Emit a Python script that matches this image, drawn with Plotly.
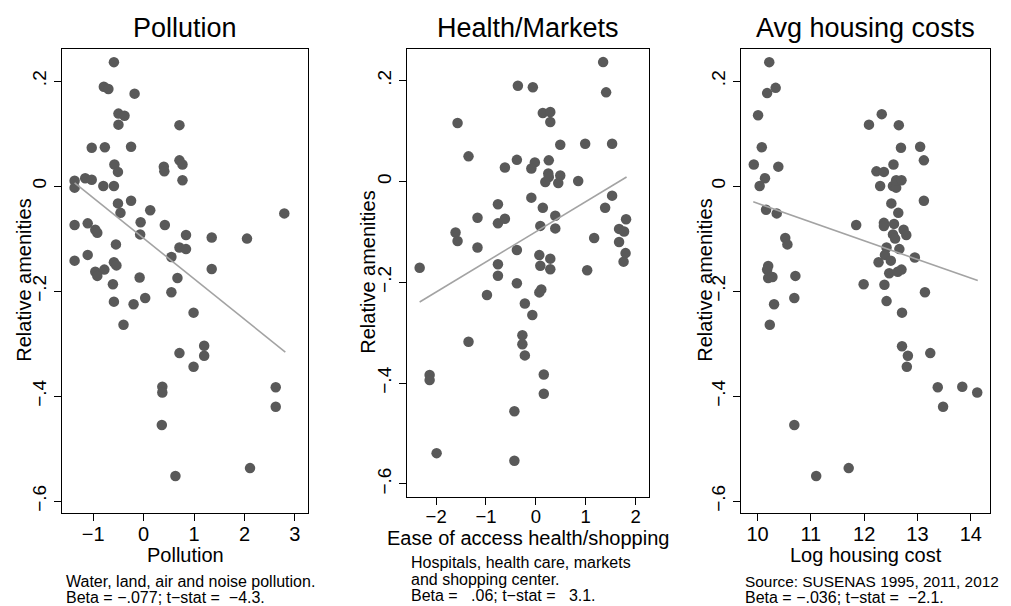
#!/usr/bin/env python
# %%
import plotly.graph_objects as go

# the page body has an 8px margin, so the figure is drawn 8px smaller and shifted
PAGE_W, PAGE_H, OFF = 1011, 606, 8
W, H = PAGE_W - OFF, PAGE_H - OFF
FONT = "Liberation Sans, Arial, Helvetica, sans-serif"

# Pollution panel
pollution_x = [-0.59, -0.79, -0.70, -0.18, -0.50, -0.38, -0.50, 0.71, -1.03, -0.77,
               -0.25, -0.58, 0.71, 0.77, 0.40, 0.41, -0.51, -1.37, -1.16, -1.03,
               -1.37, -0.80, -0.59, 0.77, -0.51, -0.25, -0.46, 0.13, 2.79, -1.37,
               -1.11, -0.96, -0.92, -0.06, 0.42, -0.07, 0.84, 1.35, 2.05, -0.55,
               0.71, 0.84, -1.11, -1.37, 0.55, -0.59, -0.54, 1.35, -0.96, -0.78,
               -0.92, -0.08, 0.67, -0.61, 0.55, -0.59, -0.20, 0.03, 0.99, -0.40,
               0.71, 1.20, 1.20, 0.99, 0.37, 0.37, 2.62, 2.62, 0.36, 2.11, 0.63]
pollution_y = [0.236, 0.189, 0.185, 0.176, 0.138, 0.134, 0.117, 0.116, 0.073, 0.074,
               0.075, 0.041, 0.049, 0.041, 0.037, 0.028, 0.027, 0.010, 0.015, 0.012,
               -0.003, 0.000, 0.000, 0.011, -0.033, -0.028, -0.051, -0.046, -0.052, -0.074,
               -0.071, -0.083, -0.089, -0.069, -0.074, -0.092, -0.093, -0.098, -0.100, -0.111,
               -0.117, -0.120, -0.131, -0.142, -0.135, -0.145, -0.151, -0.158, -0.163, -0.159,
               -0.171, -0.174, -0.175, -0.187, -0.202, -0.220, -0.225, -0.213, -0.241, -0.264,
               -0.318, -0.304, -0.323, -0.344, -0.382, -0.393, -0.383, -0.420, -0.455, -0.537, -0.552]
pollution_fit_x = [-1.37, 2.81]
pollution_fit_y = [0.006, -0.316]

# Health/Markets panel
health_x = [1.35, 1.41, -0.36, -0.06, 0.14, 0.29, 0.29, -1.57, 0.49, 0.99,
            1.53, -1.35, -0.38, -0.02, 0.26, -0.62, -0.09, 0.25, 0.49, 0.19,
            0.26, 0.45, 0.85, -0.09, -0.76, 0.14, 1.53, 1.39, -1.17, 0.39,
            -0.76, -0.62, 1.81, 0.09, 0.39, 1.67, 1.77, -1.61, -1.57, 1.17,
            1.67, -1.17, -0.38, 0.07, 0.29, 1.80, -2.33, -0.76, 0.09, 0.29,
            1.03, 1.76, -0.76, -0.38, 0.11, 0.07, -0.98, -0.22, -0.07, -0.27,
            -1.35, -0.27, -0.22, -2.13, -2.13, 0.16, 0.16, -0.43, -1.99, -0.43]
health_y = [0.237, 0.177, 0.190, 0.187, 0.136, 0.138, 0.118, 0.116, 0.073, 0.075,
            0.075, 0.050, 0.043, 0.038, 0.042, 0.028, 0.026, 0.016, 0.012, -0.001,
            0.009, -0.003, 0.001, -0.032, -0.045, -0.052, -0.028, -0.052, -0.072, -0.068,
            -0.083, -0.074, -0.075, -0.088, -0.093, -0.094, -0.099, -0.101, -0.118, -0.112,
            -0.120, -0.131, -0.136, -0.146, -0.153, -0.142, -0.171, -0.164, -0.167, -0.174,
            -0.176, -0.159, -0.187, -0.202, -0.214, -0.220, -0.225, -0.242, -0.265, -0.305,
            -0.318, -0.323, -0.345, -0.384, -0.394, -0.383, -0.421, -0.456, -0.539, -0.554]
health_fit_x = [-2.33, 1.82]
health_fit_y = [-0.239, 0.009]

# Avg housing costs panel
housing_x = [10.22, 10.34, 10.18, 10.01, 10.08, 9.93, 10.39, 10.14, 10.04, 10.16,
             10.36, 10.52, 10.56, 10.20, 10.18, 10.20, 10.28, 10.71, 10.31, 10.69,
             10.23, 12.09, 12.33, 12.65, 12.69, 13.05, 13.12, 12.55, 12.23, 12.37,
             12.30, 12.54, 12.60, 12.60, 12.70, 13.12, 12.51, 12.64, 11.85, 12.37,
             12.37, 12.56, 12.74, 12.54, 12.79, 12.58, 12.42, 12.66, 12.39, 12.95,
             12.27, 12.50, 12.47, 12.63, 12.70, 11.99, 12.38, 13.14, 12.42, 12.71,
             12.71, 12.82, 12.80, 13.24, 13.38, 13.84, 14.12, 13.48, 10.69, 11.71, 11.10]
housing_y = [0.236, 0.187, 0.177, 0.135, 0.074, 0.041, 0.037, 0.015, 0.000, -0.045,
             -0.052, -0.099, -0.111, -0.152, -0.159, -0.175, -0.173, -0.171, -0.225, -0.213,
             -0.264, 0.117, 0.137, 0.116, 0.073, 0.075, 0.049, 0.041, 0.028, 0.027,
             0.000, 0.000, -0.003, 0.011, 0.011, -0.028, -0.033, -0.051, -0.074, -0.070,
             -0.076, -0.072, -0.083, -0.092, -0.093, -0.100, -0.117, -0.120, -0.131, -0.136,
             -0.145, -0.142, -0.166, -0.163, -0.159, -0.187, -0.188, -0.202, -0.219, -0.241,
             -0.305, -0.323, -0.344, -0.318, -0.383, -0.382, -0.393, -0.420, -0.455, -0.537, -0.552]
housing_fit_x = [9.92, 14.13]
housing_fit_y = [-0.030, -0.180]

titles = ["Pollution", "Health/Markets", "Avg housing costs"]
x_titles = ["Pollution", "Ease of access health/shopping", "Log housing cost"]
notes = [
    ["Water, land, air and noise pollution.",
     "Beta = −.077; t−stat = \u00a0−4.3."],
    ["Hospitals, health care, markets",
     "and shopping center.",
     "Beta = \u00a0\u00a0.06; t−stat = \u00a0\u00a03.1."],
    ["Source: SUSENAS 1995, 2011, 2012",
     "Beta = −.036; t−stat = \u00a0−2.1."],
]
y_tickvals = [0.2, 0, -0.2, -0.4, -0.6]
y_ticktext = [".2", "0", "−.2", "−.4", "−.6"]
x_tickvals = [[-1, 0, 1, 2, 3], [-2, -1, 0, 1, 2], [10, 11, 12, 13, 14]]
x_ticktext = [["−1", "0", "1", "2", "3"], ["−2", "−1", "0", "1", "2"],
              ["10", "11", "12", "13", "14"]]

# page-pixel boxes of each plot area: left, right, top, bottom
boxes = [(62, 308, 49, 512.5), (406.7, 649, 49, 496.5), (741, 990, 49, 512.5)]
x_ranges = [[-1.62, 3.26], [-2.59, 2.27], [9.69, 14.36]]
y_ranges = [[-0.6215, 0.261], [-0.625, 0.263], [-0.6215, 0.261]]
x_tick_size = [20, 18.5, 20]
y_title_x = [24, 368, 705]
x_title_y = [554.5, 538, 554.5]
note_y = [[581, 597], [562, 579, 595], [581, 597]]
note_size = [[16, 16], [16, 16, 16], [15.4, 16]]

data = [(pollution_x, pollution_y, pollution_fit_x, pollution_fit_y),
        (health_x, health_y, health_fit_x, health_fit_y),
        (housing_x, housing_y, housing_fit_x, housing_fit_y)]


def px(x):
    return (x - OFF) / W


def py(y):
    return 1 - (y - OFF) / H


fig = go.Figure()
annotations = []
for i, (sx, sy, fx, fy) in enumerate(data):
    n = "" if i == 0 else str(i + 1)
    fig.add_trace(go.Scatter(x=sx, y=sy, mode="markers", xaxis="x" + n, yaxis="y" + n,
                             marker=dict(size=10.5, color="#595959", line=dict(width=0)),
                             showlegend=False))
    fig.add_trace(go.Scatter(x=fx, y=fy, mode="lines", xaxis="x" + n, yaxis="y" + n,
                             line=dict(color="#a3a3a3", width=1.6), showlegend=False))

    l, r, t, b = boxes[i]
    axis_common = dict(showline=True, mirror=True, linecolor="black", linewidth=1.3,
                       showgrid=False, zeroline=False, ticks="outside", ticklen=7,
                       tickwidth=1.2, tickcolor="black", automargin=False)
    fig.update_layout({
        "xaxis" + n: dict(axis_common, domain=[px(l), px(r)], range=x_ranges[i],
                          anchor="y" + n, tickvals=x_tickvals[i], ticktext=x_ticktext[i],
                          ticklabelstandoff=-4,
                          tickfont=dict(family=FONT, size=x_tick_size[i], color="black")),
        "yaxis" + n: dict(axis_common, domain=[py(b), py(t)], range=y_ranges[i],
                          anchor="x" + n, tickvals=y_tickvals, ticktext=y_ticktext,
                          tickangle=-90, ticklabelstandoff=0,
                          tickfont=dict(family=FONT, size=19, color="black")),
    })

    cx = (l + r) / 2
    annotations.append(dict(text=titles[i], x=px(cx), y=py(28), xref="paper", yref="paper",
                            showarrow=False, xanchor="center", yanchor="middle",
                            font=dict(family=FONT, size=27, color="black")))
    annotations.append(dict(text=x_titles[i], x=px(cx), y=py(x_title_y[i]), xref="paper",
                            yref="paper", showarrow=False, xanchor="center", yanchor="middle",
                            font=dict(family=FONT, size=20, color="black")))
    annotations.append(dict(text="Relative amenities", x=px(y_title_x[i]), y=py((t + b) / 2),
                            xref="paper", yref="paper", showarrow=False, textangle=-90,
                            xanchor="center", yanchor="middle",
                            font=dict(family=FONT, size=20, color="black")))
    for line, ly, fs in zip(notes[i], note_y[i], note_size[i]):
        annotations.append(dict(text=line, x=px(l + 2), y=py(ly), xref="paper", yref="paper",
                                showarrow=False, xanchor="left", yanchor="middle", align="left",
                                font=dict(family=FONT, size=fs, color="black")))

fig.update_layout(width=W, height=H, margin=dict(l=0, r=0, t=0, b=0),
                  paper_bgcolor="white", plot_bgcolor="white",
                  annotations=annotations, showlegend=False)

fig.write_html("out.html")
